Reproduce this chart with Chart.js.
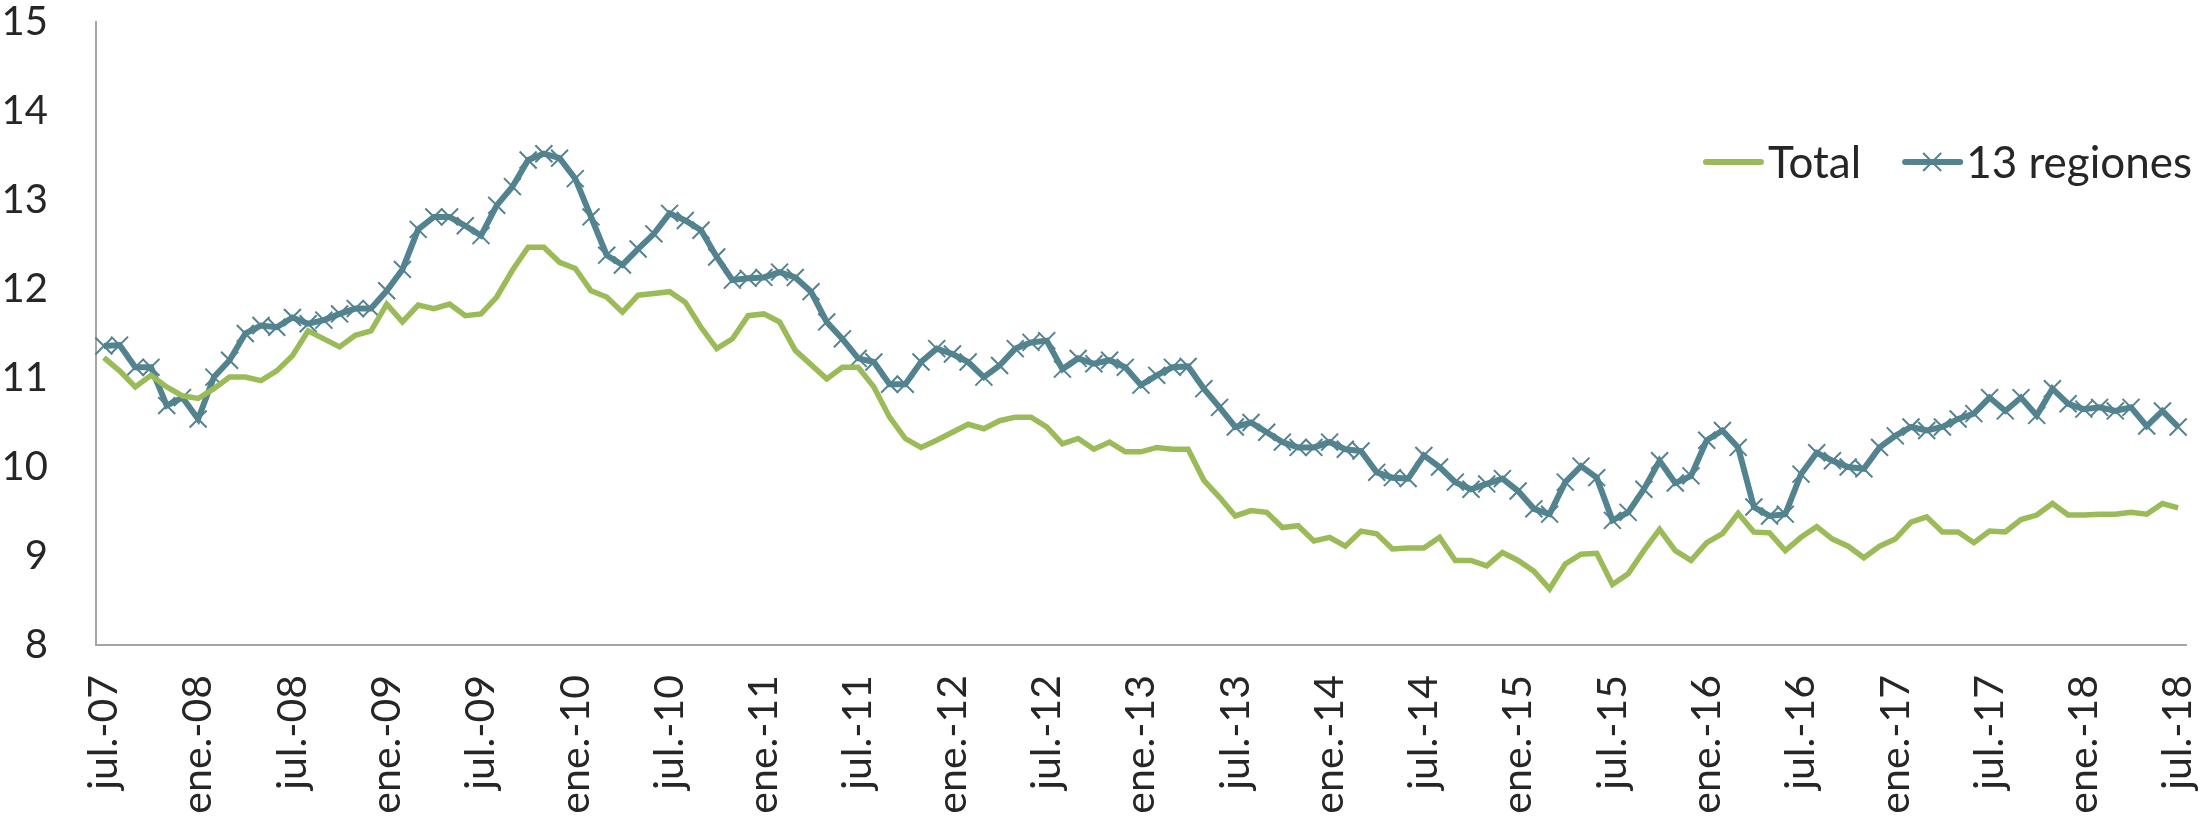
<!DOCTYPE html>
<html>
<head>
<meta charset="utf-8">
<script src="https://cdn.jsdelivr.net/npm/chart.js@4/dist/chart.umd.min.js"></script>
<style>
  body { margin: 0; background: #fff; }
  canvas { display: block; }
</style>
</head>
<body>
<canvas id="tasaChart" width="2202" height="822"></canvas>
<script>
// Month labels, jul.-07 to jul.-18 (only every 6th is shown)
const monthNames = ['ene.', 'feb.', 'mar.', 'abr.', 'may.', 'jun.', 'jul.', 'ago.', 'sept.', 'oct.', 'nov.', 'dic.'];
const months = [];
for (let y = 2007; y <= 2018; y++) {
    for (let m = 0; m < 12; m++) {
        if (y === 2007 && m < 6) continue;
        if (y === 2018 && m > 6) break;
        months.push(monthNames[m] + '-' + String(y).slice(2));
    }
}

const totalValues = [
    11.23, 11.08, 10.90, 11.03, 10.90, 10.80, 10.77, 10.88, 11.01, 11.01, 10.97, 11.08,
    11.25, 11.53, 11.44, 11.35, 11.48, 11.53, 11.83, 11.63, 11.82, 11.78, 11.83, 11.70,
    11.72, 11.91, 12.21, 12.47, 12.47, 12.30, 12.23, 11.98, 11.91, 11.74, 11.93, 11.95,
    11.97, 11.85, 11.57, 11.33, 11.44, 11.70, 11.72, 11.63, 11.31, 11.15, 10.99, 11.12,
    11.12, 10.90, 10.56, 10.32, 10.22, 10.30, 10.39, 10.48, 10.43, 10.52, 10.56, 10.56,
    10.45, 10.26, 10.32, 10.20, 10.28, 10.17, 10.17, 10.22, 10.20, 10.20, 9.85, 9.66,
    9.45, 9.51, 9.49, 9.32, 9.34, 9.17, 9.21, 9.11, 9.28, 9.25, 9.08, 9.09,
    9.09, 9.21, 8.95, 8.95, 8.89, 9.04, 8.95, 8.83, 8.63, 8.91, 9.02, 9.03,
    8.68, 8.80, 9.06, 9.30, 9.06, 8.95, 9.15, 9.25, 9.48, 9.27, 9.26, 9.06,
    9.21, 9.33, 9.19, 9.11, 8.98, 9.11, 9.19, 9.38, 9.44, 9.27, 9.27, 9.15,
    9.28, 9.27, 9.41, 9.46, 9.59, 9.46, 9.46, 9.47, 9.47, 9.49, 9.47, 9.59,
    9.54
];

const regionesValues = [
    11.36, 11.37, 11.12, 11.12, 10.69, 10.78, 10.54, 11.01, 11.20, 11.50, 11.59, 11.57,
    11.68, 11.61, 11.65, 11.72, 11.78, 11.78, 11.98, 12.22, 12.67, 12.81, 12.81, 12.71,
    12.60, 12.94, 13.15, 13.45, 13.52, 13.47, 13.24, 12.81, 12.38, 12.27, 12.45, 12.62,
    12.85, 12.77, 12.66, 12.36, 12.10, 12.12, 12.13, 12.19, 12.13, 11.97, 11.63, 11.44,
    11.22, 11.18, 10.93, 10.93, 11.18, 11.33, 11.27, 11.18, 11.01, 11.14, 11.33, 11.40,
    11.42, 11.10, 11.22, 11.16, 11.20, 11.12, 10.92, 11.03, 11.12, 11.13, 10.88, 10.67,
    10.45, 10.50, 10.39, 10.28, 10.22, 10.22, 10.28, 10.20, 10.18, 9.94, 9.88, 9.87,
    10.13, 10.00, 9.83, 9.75, 9.81, 9.87, 9.73, 9.53, 9.47, 9.83, 10.01, 9.88,
    9.40, 9.49, 9.75, 10.07, 9.82, 9.90, 10.30, 10.41, 10.22, 9.55, 9.45, 9.47,
    9.92, 10.16, 10.07, 10.00, 9.98, 10.22, 10.35, 10.45, 10.41, 10.45, 10.54, 10.60,
    10.78, 10.63, 10.78, 10.58, 10.88, 10.71, 10.65, 10.67, 10.63, 10.67, 10.46, 10.63,
    10.45
];

const yTicks = [8, 9, 10, 11, 12, 13, 14, 15];

const greenColor = '#9BBB59';
const tealColor = '#52838F';
const textColor = '#262626';
const fontFamily = 'Lato, "Open Sans", sans-serif';

// legend drawn inside the plot, top right
const insideLegend = {
    id: 'insideLegend',
    afterDraw(chart) {
        const ctx = chart.ctx;
        const y = chart.chartArea.top + 140;
        ctx.save();
        ctx.font = '44px ' + fontFamily;
        ctx.textBaseline = 'middle';
        ctx.fillStyle = textColor;
        ctx.lineCap = 'round';

        // laid out right to left from the right edge
        const w2 = ctx.measureText('13 regiones').width;
        const w1 = ctx.measureText('Total').width;
        const text2 = chart.width - 10 - w2;
        const line2 = text2 - 6 - 55;
        const text1 = line2 - 44 - w1;
        const line1 = text1 - 7 - 55;

        ctx.strokeStyle = greenColor;
        ctx.lineWidth = 6;
        ctx.beginPath();
        ctx.moveTo(line1, y);
        ctx.lineTo(line1 + 55, y);
        ctx.stroke();
        ctx.fillText('Total', text1, y + 2);

        ctx.strokeStyle = tealColor;
        ctx.beginPath();
        ctx.moveTo(line2, y);
        ctx.lineTo(line2 + 55, y);
        ctx.stroke();
        ctx.lineWidth = 2;
        ctx.lineCap = 'butt';
        const mx = line2 + 27, d = 9;
        ctx.beginPath();
        ctx.moveTo(mx - d, y - d);
        ctx.lineTo(mx + d, y + d);
        ctx.moveTo(mx - d, y + d);
        ctx.lineTo(mx + d, y - d);
        ctx.stroke();
        ctx.fillText('13 regiones', text2, y + 2);
        ctx.restore();
    }
};

const ctx = document.getElementById('tasaChart').getContext('2d');
new Chart(ctx, {
    type: 'line',
    data: {
        labels: months,
        datasets: [{
            label: 'Total',
            data: totalValues,
            borderColor: greenColor,
            borderWidth: 5.5,
            pointRadius: 0,
            tension: 0
        }, {
            label: '13 regiones',
            data: regionesValues,
            borderColor: tealColor,
            borderWidth: 6,
            pointStyle: 'crossRot',
            pointRadius: 12,
            pointBorderWidth: 2,
            pointBorderColor: tealColor,
            pointBackgroundColor: tealColor,
            tension: 0
        }]
    },
    options: {
        responsive: false,
        animation: false,
        layout: { padding: { top: 22, right: 16, left: 0, bottom: 0 } },
        plugins: {
            legend: { display: false },
            tooltip: { enabled: false }
        },
        scales: {
            x: {
                offset: true,
                grid: { display: false, drawTicks: false },
                border: { display: true, color: '#A6A6A6', width: 2 },
                ticks: {
                    autoSkip: false,
                    minRotation: 90,
                    maxRotation: 90,
                    padding: 30,
                    color: textColor,
                    font: { family: fontFamily, size: 41 },
                    callback: (val, i) => (i % 6 === 0 ? months[i] : null)
                },
                afterFit: s => {
                    s.height = 177;
                    s.paddingLeft = 0;
                    s.paddingRight = 0;
                }
            },
            y: {
                min: 8,
                max: 15,
                afterBuildTicks: s => { s.ticks = yTicks.map(v => ({ value: v })); },
                grid: { display: false, drawTicks: false },
                border: { display: true, color: '#A6A6A6', width: 2 },
                ticks: {
                    padding: 48,
                    color: textColor,
                    font: { family: fontFamily, size: 40 }
                },
                afterFit: s => {
                    s.width = 96;
                    s.paddingTop = 0;
                    s.paddingBottom = 0;
                }
            }
        }
    },
    plugins: [insideLegend]
});
</script>
</body>
</html>
